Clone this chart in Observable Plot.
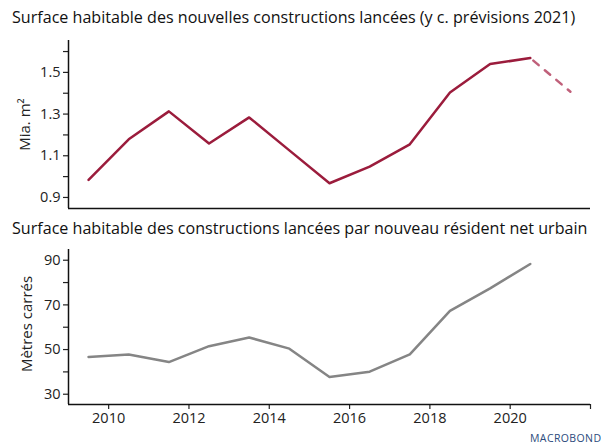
<!DOCTYPE html>
<html>
<head>
<meta charset="utf-8">
<script src="https://cdn.jsdelivr.net/npm/d3@7"></script>
<script src="https://cdn.jsdelivr.net/npm/@observablehq/plot@0.6"></script>
<style>
  html, body { margin: 0; padding: 0; background: #fff; }
  body { width: 601px; height: 446px; position: relative; overflow: hidden; font-family: "Open Sans", Lato, sans-serif; }
  .title { position: absolute; left: 12px; font-size: 16.1px; color: #111; white-space: nowrap; }
  .panel { position: absolute; left: 0; }
  .logo { position: absolute; left: 530px; top: 432px; font-size: 10.5px; letter-spacing: 0.4px; color: #2b4a7c; font-family: "Open Sans", sans-serif; line-height: 12px; }
</style>
</head>
<body>
<div class="title" style="top:6px">Surface habitable des nouvelles constructions lancées (y c. prévisions 2021)</div>
<div class="panel" id="p1" style="top:30px"></div>
<div class="title" style="top:217px">Surface habitable des constructions lancées par nouveau résident net urbain</div>
<div class="panel" id="p2" style="top:240px"></div>
<div class="logo">MACROBOND</div>
<script>
// Data (annual values, plotted at mid-year)
const years = [2009, 2010, 2011, 2012, 2013, 2014, 2015, 2016, 2017, 2018, 2019, 2020];
const surfaceValues = [0.984, 1.179, 1.313, 1.159, 1.284, 1.126, 0.968, 1.048, 1.155, 1.404, 1.540, 1.569];
const forecastYears = [2020, 2021];
const forecastValues = [1.569, 1.407];
const perResidentValues = [46.7, 47.8, 44.4, 51.5, 55.4, 50.4, 37.7, 40.1, 47.8, 67.3, 77.4, 88.3];
const topTicks = [0.9, 1.1, 1.3, 1.5];
const topMinorTicks = [1.0, 1.2, 1.4, 1.6];
const bottomTicks = [30, 50, 70, 90];
const bottomMinorTicks = [40, 60, 80];
const xTicks = [2010, 2012, 2014, 2016, 2018, 2020, 2022];
const xTickLabels = ["2010", "2012", "2014", "2016", "2018", "2020", ""];

const surface = years.map((y, i) => ({x: y + 0.5, v: surfaceValues[i]}));
const forecast = forecastYears.map((y, i) => ({x: y + 0.5, v: forecastValues[i]}));
const perResident = years.map((y, i) => ({x: y + 0.5, v: perResidentValues[i]}));

const font = "'Open Sans', Lato, sans-serif";
const common = {
  width: 601,
  marginLeft: 68,
  marginRight: 11,
  style: {fontFamily: font, fontSize: "14.5px", color: "#222", background: "white", overflow: "visible"}
};
const xDomain = [2009, 2022];

const p1 = Plot.plot({
  ...common,
  height: 186,
  marginTop: 10,
  marginBottom: 8,
  x: {domain: xDomain, axis: null},
  y: {domain: [0.847, 1.653], axis: null},
  marks: [
    Plot.axisY(topTicks, {tickSize: 5, tickPadding: 3, tickFormat: d => d.toFixed(1), fontSize: 14.5, stroke: "#222", strokeWidth: 1.2, label: null}),
    Plot.axisY(topMinorTicks, {tickSize: 5, tickFormat: () => "", stroke: "#222", strokeWidth: 1.2, label: null}),
    Plot.text(["Mia. m²"], {frameAnchor: "left", dx: -43, rotate: -90, textAnchor: "middle", fontSize: 15, fill: "#222"}),
    Plot.ruleX([2009], {stroke: "#111", strokeWidth: 1.5}),
    Plot.ruleY([0.847], {stroke: "#111", strokeWidth: 1.5}),
    Plot.line(forecast, {x: "x", y: "v", stroke: "#c0607a", strokeWidth: 2.5, strokeDasharray: "7,8", strokeDashoffset: -4}),
    Plot.line(surface, {x: "x", y: "v", stroke: "#9b1c3c", strokeWidth: 2.5})
  ]
});
document.getElementById("p1").appendChild(p1);

const p2 = Plot.plot({
  ...common,
  height: 206,
  marginTop: 9,
  marginBottom: 42,
  x: {domain: xDomain, axis: null},
  y: {domain: [25.4, 94.8], axis: null},
  marks: [
    Plot.axisY(bottomTicks, {tickSize: 5, tickPadding: 3, fontSize: 14.5, stroke: "#222", strokeWidth: 1.2, label: null}),
    Plot.axisY(bottomMinorTicks, {tickSize: 5, tickFormat: () => "", stroke: "#222", strokeWidth: 1.2, label: null}),
    Plot.axisX(xTicks, {tickSize: 5, tickPadding: 3, tickFormat: (d, i) => xTickLabels[i], fontSize: 14.5, stroke: "#222", strokeWidth: 1.2, label: null}),
    Plot.text(["Mètres carrés"], {frameAnchor: "left", dx: -41, dy: -3, rotate: -90, textAnchor: "middle", fontSize: 15, fill: "#222"}),
    Plot.ruleX([2009], {stroke: "#111", strokeWidth: 1.5}),
    Plot.ruleY([25.4], {stroke: "#111", strokeWidth: 1.5}),
    Plot.line(perResident, {x: "x", y: "v", stroke: "#858585", strokeWidth: 2.5})
  ]
});
document.getElementById("p2").appendChild(p2);
</script>
</body>
</html>
